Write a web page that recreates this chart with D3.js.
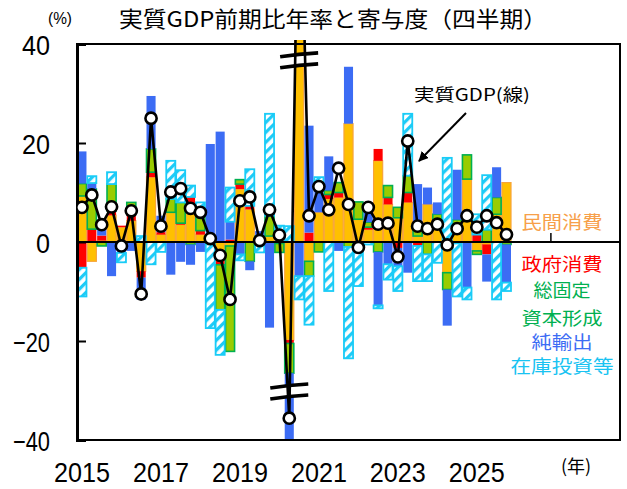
<!DOCTYPE html>
<html>
<head>
<meta charset="utf-8">
<script src="https://cdn.jsdelivr.net/npm/d3@7/dist/d3.min.js"></script>
<style>
  html, body { margin: 0; padding: 0; background: #fff; }
  svg { display: block; }
</style>
</head>
<body>
<svg id="chart" width="627" height="489"></svg>
<script>
// Quarterly contributions to real GDP growth (annualised, % points)
const quarters = [
  "2015Q1","2015Q2","2015Q3","2015Q4","2016Q1","2016Q2","2016Q3","2016Q4",
  "2017Q1","2017Q2","2017Q3","2017Q4","2018Q1","2018Q2","2018Q3","2018Q4",
  "2019Q1","2019Q2","2019Q3","2019Q4","2020Q1","2020Q2","2020Q3","2020Q4",
  "2021Q1","2021Q2","2021Q3","2021Q4","2022Q1","2022Q2","2022Q3","2022Q4",
  "2023Q1","2023Q2","2023Q3","2023Q4","2024Q1","2024Q2","2024Q3","2024Q4",
  "2025Q1","2025Q2","2025Q3","2025Q4"
];
// empty slots that keep the category axis running past the last quarter
const futureSlots = [
  "2026Q1","2026Q2","2026Q3","2026Q4","2027Q1","2027Q2","2027Q3","2027Q4",
  "2028Q1","2028Q2","2028Q3"
];
const yearTicks = ["2015","2017","2019","2021","2023","2025"];
const yTicks = [40, 20, 0, -20, -40];

// 民間消費
const privateConsumption = [
  9.3, -3.9, 0.3, 5.4, 3.0, 4.3, -5.9, 13.1,
  1.5, 6.0, 3.5, 7.6, 1.5, 0.5, -3.5, -0.8,
  10.7, 6.6, -0.3, 1.2, -0.3, -19.8, 60.0, -3.9,
  6.0, 8.7, 9.0, 23.9, 4.6, 2.5, 16.4, 7.6,
  4.9, 8.0, 1.2, 7.6, 3.9, -6.2, 2.5, 12.7,
  -1.8, -0.5, 5.6, 12.0
];
// 政府消費
const governmentConsumption = [
  -5.2, 2.6, 1.0, 0.9, 0.3, 2.9, -1.3, 1.0,
  0.5, 0.0, 0.3, 1.5, 0.8, 0.2, -1.1, 0.5,
  1.0, 0.7, 0.0, 0.0, 0.3, -0.7, 0.0, 1.9,
  0.0, 0.9, 1.0, 0.0, -0.3, 0.5, 2.4, 1.4,
  -1.2, 2.0, -0.8, 0.0, 0.0, 0.0, -0.3, 0.0,
  1.5, -2.0, 0.0, 0.0
];
// 総固定資本形成
const fixedInvestment = [
  2.5, 8.1, -0.8, 5.4, 0.0, 0.8, 0.0, 4.7,
  0.0, 2.7, 4.2, -0.5, 4.5, -0.5, -9.1, -21.3,
  0.9, -3.9, 1.2, 4.1, -1.8, -6.0, 0.0, -3.0,
  -2.0, 0.8, 2.0, -1.0, 3.5, 1.0, -2.0, 2.4,
  2.1, 3.4, 2.0, -2.5, 1.7, -3.4, 2.0, 4.9,
  -0.7, 2.5, 3.4, -0.5
];
// 純輸出
const netExports = [
  6.5, 1.2, 3.0, -6.9, -2.2, -1.8, -4.5, 10.7,
  3.3, -6.6, -4.0, -4.1, -2.0, 19.1, 22.3, 3.6,
  -2.5, -1.8, 1.0, -17.3, 1.5, -13.8, -6.9, 21.6,
  5.5, 6.9, -1.8, 11.5, 0.0, 3.0, -10.8, -4.5,
  -3.7, -6.2, 8.5, 3.4, 2.4, -7.3, 10.1, -9.2,
  0.0, -5.5, 6.1, -7.7
];
// 在庫投資等
const inventories = [
  -5.8, 1.4, 0.0, 2.4, -1.9, 0.0, 1.2, -4.5,
  -2.0, 7.7, 6.5, 2.3, 1.2, -16.9, -9.1, 6.9,
  -1.2, 7.4, -1.8, 20.6, 1.5, 3.2, -4.7, -9.8,
  1.6, -9.9, 0.0, -22.5, -8.6, -0.5, -0.6, -3.1,
  -5.0, 12.5, -7.1, -5.4, -4.2, 17.0, -10.7, -2.4,
  4.1, 11.0, -11.6, -1.7
];
// 実質GDP (line)
const realGDP = [
  7.0, 9.5, 3.5, 7.1, -0.8, 6.3, -10.5, 25.0,
  3.2, 10.1, 10.8, 6.8, 6.0, 0.7, -2.7, -11.6,
  8.3, 9.1, 0.3, 6.5, 1.4, -35.6, 85.0, 5.3,
  11.2, 6.5, 14.9, 7.6, -1.1, 7.0, 3.6, 3.8,
  -3.0, 20.4, 3.2, 2.7, 3.6, -0.6, 2.7, 5.3,
  3.0, 5.3, 3.9, 1.5
];

const seriesKeys = ["pc", "gc", "fi", "nx", "inv"];
const seriesStyle = {
  pc:  { fill: "#FFC000", stroke: "#F7A43A", sw: 1.2 },
  gc:  { fill: "#FF0000", stroke: "none",    sw: 0 },
  fi:  { fill: "#99CC00", stroke: "#00B050", sw: 1.6 },
  nx:  { fill: "#3C6CF4", stroke: "none",    sw: 0 },
  inv: { fill: "url(#hatch)", stroke: "#19CCF7", sw: 1.8 }
};

const rows = quarters.map((q, i) => ({
  q,
  pc: privateConsumption[i],
  gc: governmentConsumption[i],
  fi: fixedInvestment[i],
  nx: netExports[i],
  inv: inventories[i]
}));

const plot = { left: 77, right: 620, top: 44, bottom: 440 };

const svg = d3.select("#chart");
const defs = svg.append("defs");

// diagonal stripes for inventories
const pat = defs.append("pattern")
  .attr("id", "hatch")
  .attr("patternUnits", "userSpaceOnUse")
  .attr("width", 7).attr("height", 7)
  .attr("patternTransform", "rotate(45)");
pat.append("rect").attr("width", 7).attr("height", 7).attr("fill", "#ffffff");
pat.append("rect").attr("width", 3.2).attr("height", 7).attr("fill", "#1ECBF7");

defs.append("clipPath").attr("id", "plotClip")
  .append("rect")
  .attr("x", plot.left).attr("y", plot.top - 4)
  .attr("width", plot.right - plot.left)
  .attr("height", plot.bottom - plot.top + 4);

const x = d3.scaleBand()
  .domain(quarters.concat(futureSlots))
  .range([plot.left, plot.right])
  .paddingInner(0)
  .paddingOuter(0);

const y = d3.scaleLinear().domain([-40, 40]).range([plot.bottom, plot.top]);

// title
svg.append("text")
  .attr("x", 333).attr("y", 27)
  .attr("text-anchor", "middle")
  .attr("font-family", "'Noto Sans CJK JP', sans-serif")
  .attr("font-size", 22)
  .attr("textLength", 428).attr("lengthAdjust", "spacingAndGlyphs")
  .text("実質GDP前期比年率と寄与度（四半期）");

svg.append("text")
  .attr("x", 48).attr("y", 24)
  .attr("font-family", "'Liberation Sans', sans-serif")
  .attr("font-size", 16)
  .attr("textLength", 24).attr("lengthAdjust", "spacingAndGlyphs")
  .text("(%)");

// stacked bars
const stack = d3.stack().keys(seriesKeys).offset(d3.stackOffsetDiverging);
const stacked = stack(rows);

const barsG = svg.append("g").attr("clip-path", "url(#plotClip)");
stacked.forEach(layer => {
  const st = seriesStyle[layer.key];
  barsG.append("g")
    .attr("class", "series-" + layer.key)
    .selectAll("rect")
    .data(layer.filter(d => d[1] - d[0] !== 0))
    .join("rect")
    .attr("x", d => x(d.data.q) + 0.4)
    .attr("width", x.bandwidth() - 0.8)
    .attr("y", d => y(Math.max(d[0], d[1])))
    .attr("height", d => Math.abs(y(d[0]) - y(d[1])))
    .attr("fill", st.fill)
    .attr("stroke", st.stroke)
    .attr("stroke-width", st.sw);
});

// axis breaks on the two pandemic quarters
function drawBreak(cx, cy) {
  const hw = 19, gap = 11, tilt = 2;
  const g = svg.append("g");
  g.append("path")
    .attr("d", `M${cx - hw},${cy - gap / 2 + tilt} L${cx + hw},${cy - gap / 2 - tilt}
                L${cx + hw},${cy + gap / 2 - tilt} L${cx - hw},${cy + gap / 2 + tilt} Z`)
    .attr("fill", "#fff");
  [-1, 1].forEach(s => {
    g.append("path")
      .attr("d", `M${cx - hw},${cy + s * gap / 2 + tilt} Q${cx},${cy + s * gap / 2 - 1} ${cx + hw},${cy + s * gap / 2 - tilt}`)
      .attr("fill", "none")
      .attr("stroke", "#000")
      .attr("stroke-width", 3.6);
  });
}
drawBreak(x("2020Q3") + x.bandwidth() / 2, y(36.7));
drawBreak(x("2020Q2") + x.bandwidth() / 2, y(-30.2));

// zero line
svg.append("line")
  .attr("x1", plot.left).attr("x2", plot.right)
  .attr("y1", y(0)).attr("y2", y(0))
  .attr("stroke", "#000").attr("stroke-width", 2);
svg.append("line")
  .attr("x1", x("2027Q1")).attr("x2", x("2027Q1"))
  .attr("y1", y(0)).attr("y2", y(0) - 9)
  .attr("stroke", "#000").attr("stroke-width", 1.5);

// frame
svg.append("rect")
  .attr("x", plot.left).attr("y", plot.top)
  .attr("width", plot.right - plot.left)
  .attr("height", plot.bottom - plot.top)
  .attr("fill", "none").attr("stroke", "#000").attr("stroke-width", 2);

// y axis
const yAxis = d3.axisLeft(y).tickValues(yTicks).tickSize(-9).tickPadding(27).tickFormat(d3.format("d"));
const yG = svg.append("g").attr("transform", `translate(${plot.left},0)`).call(yAxis);
yG.select(".domain").attr("stroke", "#000").attr("stroke-width", 3);
yG.selectAll(".tick line").attr("stroke", "#000").attr("stroke-width", 2);
yG.selectAll(".tick text")
  .attr("font-family", "'Liberation Sans', sans-serif")
  .attr("font-size", 28)
  .attr("fill", "#000")
  .attr("dy", "0.36em")
  .attr("textLength", d => (d < 0 ? 9 : 0) + String(Math.abs(d)).length * 14)
  .attr("lengthAdjust", "spacingAndGlyphs");

// x axis: year labels on each first quarter
const xAxis = d3.axisBottom(x)
  .tickValues(yearTicks.map(yr => yr + "Q1"))
  .tickFormat(q => q.slice(0, 4))
  .tickSize(0)
  .tickPadding(22);
const xG = svg.append("g").attr("transform", `translate(0,${plot.bottom})`).call(xAxis);
xG.select(".domain").remove();
xG.selectAll(".tick text")
  .attr("font-family", "'Liberation Sans', sans-serif")
  .attr("font-size", 28)
  .attr("fill", "#000")
  .attr("textLength", 56)
  .attr("lengthAdjust", "spacingAndGlyphs");

svg.append("text")
  .attr("x", 576).attr("y", 473)
  .attr("text-anchor", "middle")
  .attr("font-family", "'Noto Sans CJK JP', sans-serif")
  .attr("font-size", 18)
  .text("(年)");

// real GDP line
const cx = q => x(q) + x.bandwidth() / 2;
const lineG = svg.append("g").attr("clip-path", "url(#plotClip)");
lineG.append("path")
  .datum(quarters.map((q, i) => [q, realGDP[i]]))
  .attr("d", d3.line().x(d => cx(d[0])).y(d => y(d[1])))
  .attr("fill", "none")
  .attr("stroke", "#000")
  .attr("stroke-width", 2.6)
  .attr("stroke-linejoin", "round");
lineG.selectAll("circle")
  .data(quarters.map((q, i) => [q, realGDP[i]]))
  .join("circle")
  .attr("cx", d => cx(d[0]))
  .attr("cy", d => y(d[1]))
  .attr("r", 5.6)
  .attr("fill", "#fff")
  .attr("stroke", "#000")
  .attr("stroke-width", 2.6);

// line annotation with arrow
defs.append("marker")
  .attr("id", "arrowHead")
  .attr("viewBox", "0 0 10 10")
  .attr("refX", 9).attr("refY", 5)
  .attr("markerWidth", 5).attr("markerHeight", 5)
  .attr("orient", "auto")
  .append("path").attr("d", "M0,0 L10,5 L0,10 Z").attr("fill", "#000");

svg.append("text")
  .attr("x", 414).attr("y", 101)
  .attr("font-family", "'Noto Sans CJK JP', sans-serif")
  .attr("font-size", 17)
  .attr("textLength", 116).attr("lengthAdjust", "spacingAndGlyphs")
  .text("実質GDP(線)");
svg.append("line")
  .attr("x1", 466).attr("y1", 113)
  .attr("x2", 419).attr("y2", 161)
  .attr("stroke", "#000").attr("stroke-width", 2)
  .attr("marker-end", "url(#arrowHead)");

// series labels
const legendItems = [
  { text: "民間消費", color: "#F7A04A", y: 223, w: 81 },
  { text: "政府消費", color: "#FF0000", y: 265, w: 81 },
  { text: "総固定", color: "#00B050", y: 290.5, w: 57 },
  { text: "資本形成", color: "#00B050", y: 318.5, w: 81 },
  { text: "純輸出", color: "#3C6CF4", y: 342.5, w: 61 },
  { text: "在庫投資等", color: "#19C3F2", y: 367, w: 103 }
];
svg.append("g").selectAll("text")
  .data(legendItems)
  .join("text")
  .attr("x", 562)
  .attr("y", d => d.y)
  .attr("dy", "0.36em")
  .attr("text-anchor", "middle")
  .attr("font-family", "'Noto Sans CJK JP', sans-serif")
  .attr("font-size", 18)
  .attr("fill", d => d.color)
  .attr("textLength", d => d.w)
  .attr("lengthAdjust", "spacingAndGlyphs")
  .text(d => d.text);
</script>
</body>
</html>
